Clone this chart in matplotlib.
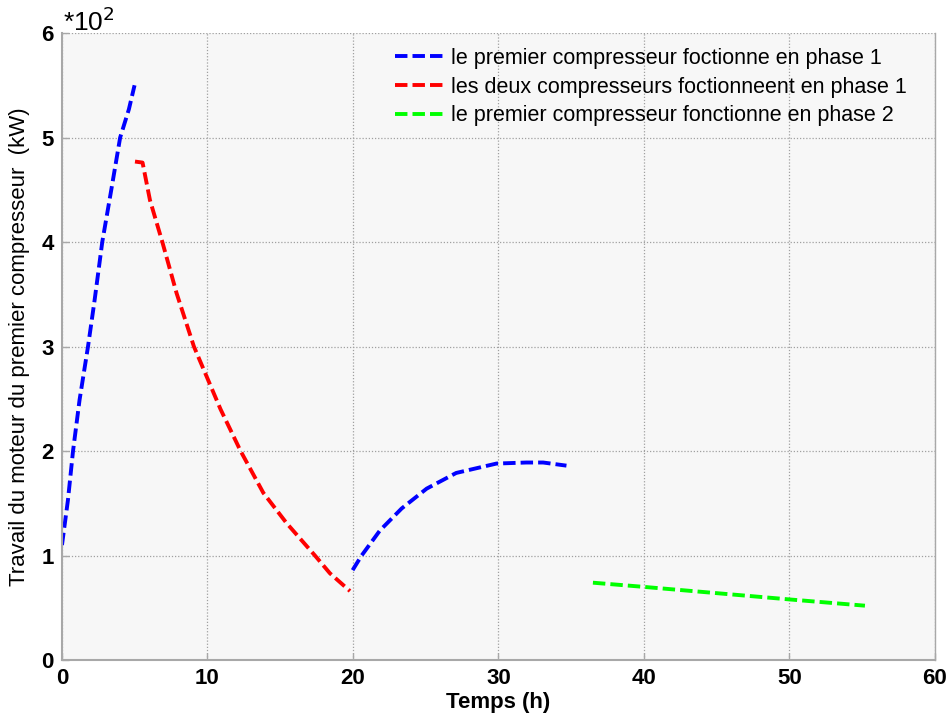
import matplotlib
matplotlib.use("Agg")
import matplotlib.pyplot as plt

# phase 1, premier compresseur (montee)
t_blue_a = [0.0, 0.41, 0.76, 1.21, 1.79, 2.24, 2.77, 3.39, 4.0, 4.6, 4.99]
w_blue_a = [1.10, 1.53, 2.0, 2.49, 3.0, 3.44, 4.0, 4.5, 5.0, 5.27, 5.50]

# phase 1, deux compresseurs
t_red = [5.02, 5.54, 6.05, 6.9, 7.88, 9.07, 10.9, 12.28, 13.84, 15.44, 17.39, 18.42, 19.8]
w_red = [4.77, 4.76, 4.40, 4.0, 3.51, 3.0, 2.40, 2.0, 1.60, 1.31, 1.0, 0.83, 0.66]

# phase 1, premier compresseur (reprise)
t_blue_b = [19.98, 20.6, 21.86, 23.35, 25.07, 27.1, 29.87, 31.93, 33.08, 34.68]
w_blue_b = [0.86, 1.0, 1.24, 1.45, 1.64, 1.79, 1.88, 1.89, 1.89, 1.86]

# phase 2
t_green = [36.5, 40.0, 50.0, 55.2]
w_green = [0.74, 0.70, 0.58, 0.52]

labels = [
    "le premier compresseur foctionne en phase 1",
    "les deux compresseurs foctionneent en phase 1",
    "le premier compresseur fonctionne en phase 2",
]

TICK_FONT = ["Liberation Sans Narrow", "Liberation Sans", "DejaVu Sans"]
TEXT_FONT = ["Liberation Sans", "DejaVu Sans"]

fig = plt.figure(figsize=(9.49, 7.13), dpi=100)
ax = fig.add_axes([0.0653, 0.0743, 0.9197, 0.8794])
ax.set_facecolor("#F7F7F7")

dash = (0, (3.2, 1.3))
ax.plot(t_blue_a, w_blue_a, color="#0000FF", lw=2.8, linestyle=dash, label=labels[0])
ax.plot(t_red, w_red, color="#FF0000", lw=2.8, linestyle=dash, label=labels[1])
ax.plot(t_blue_b, w_blue_b, color="#0000FF", lw=2.8, linestyle=dash)
ax.plot(t_green, w_green, color="#00FF00", lw=2.8, linestyle=dash, label=labels[2])

ax.set_xlim(0, 60)
ax.set_ylim(0, 6)
ax.set_xticks(range(0, 61, 10))
ax.set_yticks(range(0, 7))
ax.grid(True, color="#A0A0A0", linestyle=(0, (1, 1.5)), linewidth=0.9)
ax.set_axisbelow(True)

for side in ["left", "bottom", "right"]:
    ax.spines[side].set_color("#A8A8A8")
    ax.spines[side].set_linewidth(1.5)
ax.spines["right"].set_linewidth(1.0)
ax.spines["top"].set_visible(False)

ax.tick_params(direction="in", length=5, color="#A8A8A8", width=1, pad=6)
for lab in ax.get_xticklabels() + ax.get_yticklabels():
    lab.set_fontfamily(TICK_FONT)
    lab.set_fontsize(16)
    lab.set_fontweight("bold")

ax.set_xlabel("Temps (h)", fontsize=16, fontweight="bold", family=TICK_FONT, labelpad=2)
ax.set_ylabel("Travail du moteur du premier compresseur  (kW)", fontsize=16,
              family=TEXT_FONT, labelpad=8)

fig.text(0.066, 0.950, r"*10$^{2}$", fontsize=19, family=TEXT_FONT, va="bottom")

leg = ax.legend(loc="upper right", bbox_to_anchor=(0.99, 1.007), frameon=False,
                prop={"family": TEXT_FONT, "size": 15.5}, handlelength=2.3,
                handletextpad=0.3, labelspacing=0.35)

fig.savefig("out.png", dpi=100)
